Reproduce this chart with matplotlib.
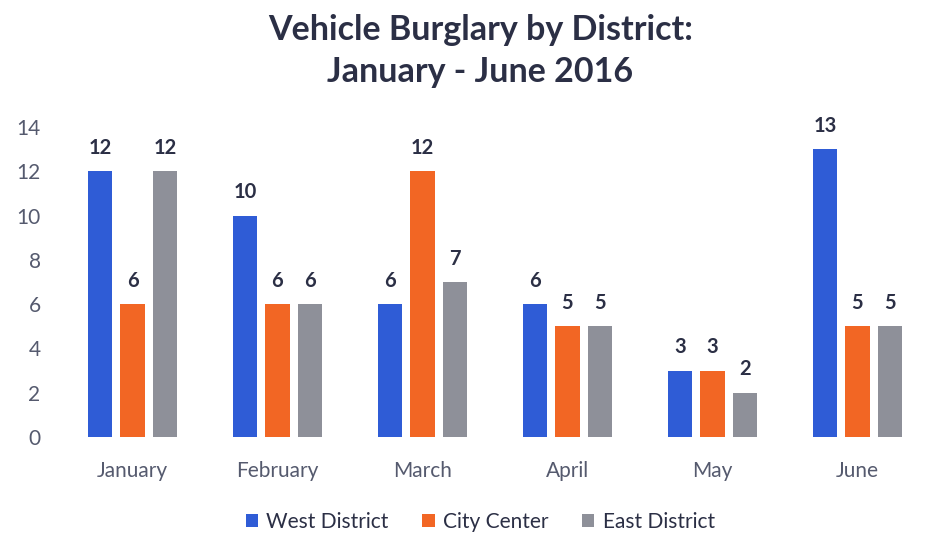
import numpy as np
import matplotlib
matplotlib.use("Agg")
import matplotlib.pyplot as plt

months = ["January", "February", "March", "April", "May", "June"]
west = [12, 10, 6, 6, 3, 13]
city = [6, 6, 12, 5, 3, 5]
east = [12, 6, 7, 5, 2, 5]
series_names = ["West District", "City Center", "East District"]
colors = ["#2F5CD6", "#F26624", "#8E9099"]

plt.rcParams['font.family'] = ['Lato', 'DejaVu Sans']
txt = "#2B2F45"

fig = plt.figure(figsize=(9.47, 5.57), dpi=100)
ax = fig.add_axes([60/947, 120/557, 870/947, 310/557])

x = np.arange(len(months))
w = 0.172
step = 0.224
for i, (vals, name, c) in enumerate(zip([west, city, east], series_names, colors)):
    pos = x + (i - 1)*step
    ax.bar(pos, vals, width=w, color=c, label=name)
    for p, v in zip(pos, vals):
        ax.text(p, v + 0.6, str(v), ha='center', va='bottom',
                fontsize=14.5, fontweight='bold', color=txt)

ax.set_xlim(-0.5, 5.5)
ax.set_ylim(0, 14)
ax.set_yticks(range(0, 15, 2))
ax.set_xticks(x)
ax.set_xticklabels(months)
for s in ax.spines.values():
    s.set_visible(False)
ax.tick_params(length=0, labelsize=15, colors="#555A6E")
ax.tick_params(axis='x', pad=17)
ax.tick_params(axis='y', pad=14)

fig.text(0.507, 0.975, "Vehicle Burglary by District:\nJanuary - June 2016",
         ha='center', va='top', fontsize=24.5, fontweight='bold',
         color=txt, linespacing=1.4)

fig.legend(loc='center', bbox_to_anchor=(0.507, 0.063), ncol=3, frameon=False,
           fontsize=15, handlelength=0.6, handleheight=0.6, handletextpad=0.4,
           columnspacing=1.6, labelcolor=txt)

fig.savefig("out.png", dpi=100)
